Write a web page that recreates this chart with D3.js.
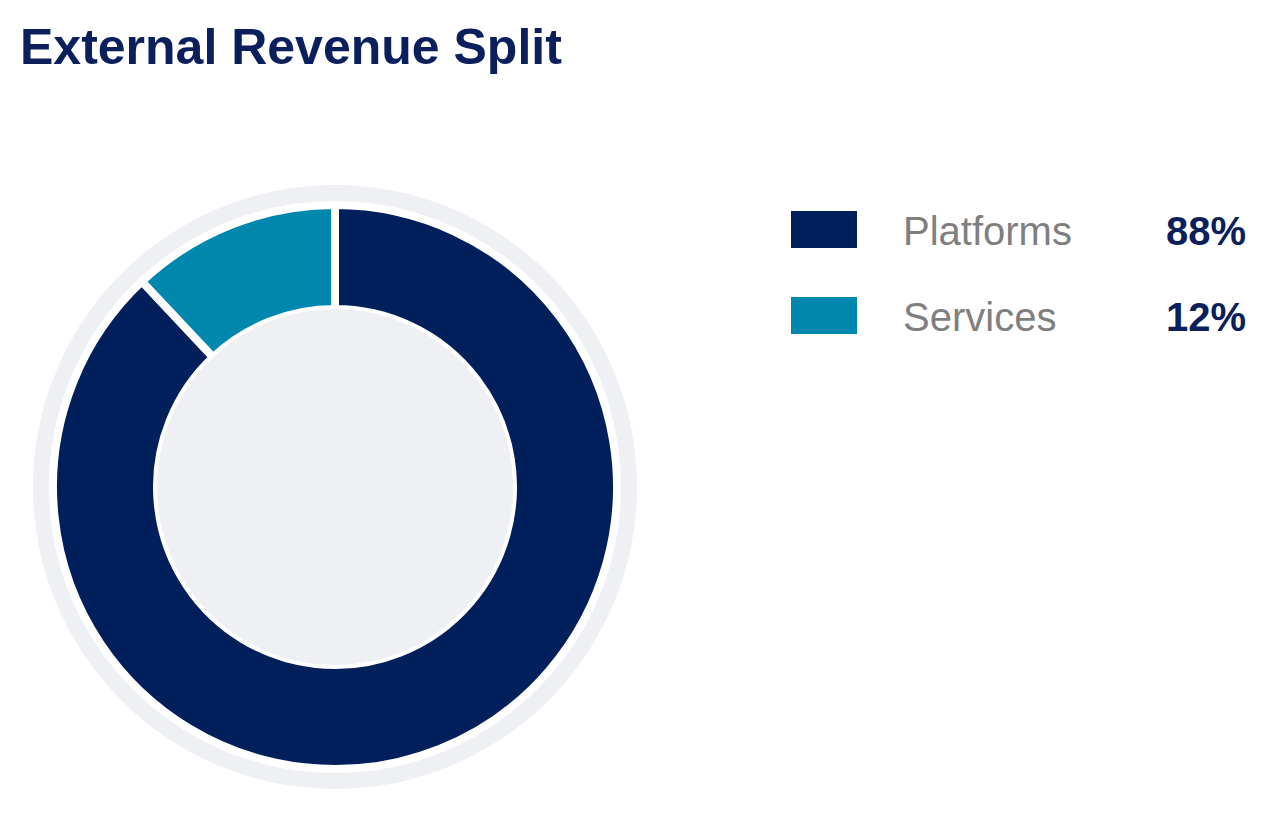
<!DOCTYPE html>
<html><head><meta charset="utf-8">
<script src="https://cdn.jsdelivr.net/npm/d3@7"></script>
<style>body{margin:0;background:#fff}</style></head>
<body><svg id="c" width="1280" height="813"></svg>
<script>
const categories = ["Platforms", "Services"];
const values = [88, 12];
const labels = ["88%", "12%"];
const colors = ["#001f5b", "#0087ad"];

const svg = d3.select("#c");
const font = "Liberation Sans, Arial, sans-serif";
svg.append("text").attr("x", 20).attr("y", 64).attr("font-family", font)
  .attr("font-weight", "bold").attr("font-size", 50).attr("fill", "#0b1f5c")
  .text("External Revenue Split");

const cx = 335, cy = 487;
const g = svg.append("g").attr("transform", `translate(${cx},${cy})`);
g.append("circle").attr("r", 302).attr("fill", "#eef0f4");
const pie = d3.pie().sort(null).value(d => d)(values);
const arc = d3.arc().innerRadius(178).outerRadius(282);
g.selectAll("path.s").data(pie).join("path").attr("class", "s")
  .attr("d", arc).attr("fill", (d, i) => colors[i])
  .attr("stroke", "#fff").attr("stroke-width", 8).attr("stroke-linejoin", "miter");
g.append("circle").attr("r", 178).attr("fill", "#eef0f4");

const y = d3.scaleBand().domain(categories).range([208, 380]).paddingInner(0);
const lg = svg.append("g");
categories.forEach((c, i) => {
  const yy = 211 + i * 86;
  lg.append("rect").attr("x", 791).attr("y", yy).attr("width", 66).attr("height", 37).attr("fill", colors[i]);
  lg.append("text").attr("x", 903).attr("y", yy + 34).attr("font-family", font)
    .attr("font-size", 40).attr("fill", "#7f7f7f").text(c);
  lg.append("text").attr("x", 1246).attr("y", yy + 34).attr("text-anchor", "end").attr("font-family", font)
    .attr("font-size", 40).attr("font-weight", "bold").attr("fill", "#0b1f5c").text(labels[i]);
});
</script></body></html>
